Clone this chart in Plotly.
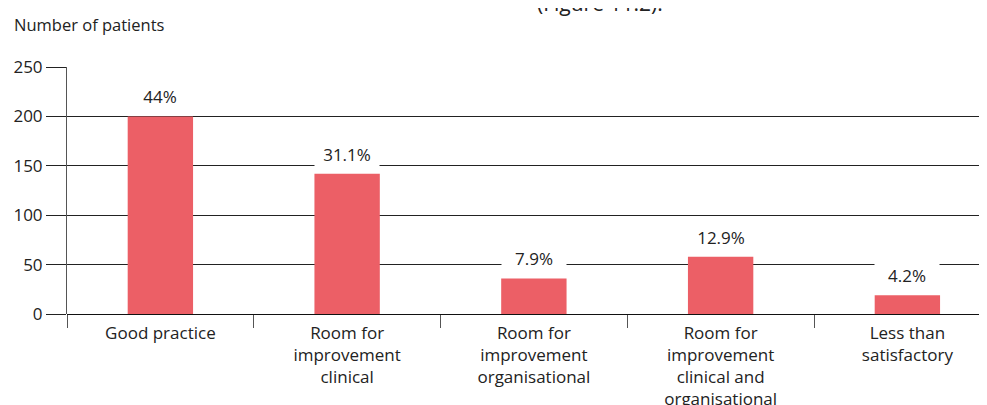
import plotly.graph_objects as go

categories = ["Good practice", "Room for<br>improvement<br>clinical", "Room for<br>improvement<br>organisational",
              "Room for<br>improvement<br>clinical and<br>organisational", "Less than<br>satisfactory"]
values = [200, 142, 36, 58, 19]
pct_labels = ["44%", "31.1%", "7.9%", "12.9%", "4.2%"]
y_ticks = [0, 50, 100, 150, 200, 250]

FONT = "Open Sans"
TXT = "#222222"
BAR = "#EC5F66"

# page body has an 8px margin; figure is sized so it ends at the window edge
W, H = 979, 397
L, T, B = 59, 59, 91
PW = W - L  # plot width in px
PH = H - T - B  # plot height in px

fig = go.Figure()
fig.add_trace(go.Bar(x=categories, y=values, marker=dict(color=BAR, line=dict(width=0)), width=0.35))

for c, v, t in zip(categories, values, pct_labels):
    fig.add_annotation(x=c, y=v, text=t, showarrow=False, yanchor="bottom", yshift=6,
                       bgcolor="white", width=64, height=26, borderpad=0,
                       font=dict(family=FONT, size=17, color=TXT))

fig.add_annotation(xref="paper", yref="paper", x=-55/PW, y=1 + 43/PH, xanchor="left", yanchor="middle",
                   text="Number of patients", showarrow=False, font=dict(family=FONT, size=16.5, color=TXT))
fig.add_annotation(xref="paper", yref="paper", x=(600 - 67) / PW, y=1 + 64/PH, xanchor="center", yanchor="middle",
                   text="(Figure 11.2).", showarrow=False, font=dict(family=FONT, size=21, color=TXT))

fig.update_layout(
    width=W, height=H,
    margin=dict(l=L, r=0, t=T, b=B, autoexpand=False),
    plot_bgcolor="white", paper_bgcolor="white",
    showlegend=False,
    font=dict(family=FONT, size=17, color=TXT),
)
fig.update_xaxes(range=[-0.5, -0.5 + PW / 186.75], tickson="boundaries", ticks="outside", ticklen=13,
                 tickcolor="#555555", tickwidth=1, showgrid=False, showline=False, zeroline=False,
                 automargin=False, ticklabelstandoff=7,
                 tickfont=dict(family=FONT, size=17, color=TXT))
fig.update_yaxes(range=[0, 250], tickvals=y_ticks, ticks="outside", ticklen=20, tickcolor="#222222",
                 showgrid=True, gridcolor="#222222", gridwidth=1, showline=True, linecolor="#555555",
                 linewidth=1, zeroline=True, zerolinecolor="#111111", zerolinewidth=1, automargin=False,
                 tickfont=dict(family=FONT, size=17, color=TXT), fixedrange=True)

fig.write_html("out.html")
